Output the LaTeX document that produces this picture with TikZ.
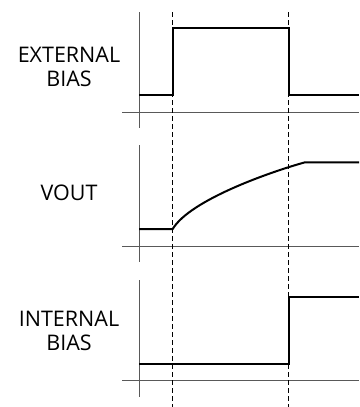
\documentclass[tikz,border=0pt]{standalone}
\usepackage{fontspec}
\setmainfont{Open Sans}
\usepackage{tikz}
\usetikzlibrary{calc}
\tikzset{
  sig label/.style={
    align=center,
    inner sep=0pt,
    font=\fontsize{21.5}{24}\selectfont,
  },
  sig axis/.style={draw=black!65, line width=1pt},
  sig wave/.style={draw=black, line width=2pt, line join=miter},
  sig marker/.style={draw=black, line width=0.9pt, dash pattern=on 5pt off 3pt},
}

\begin{document}
\begin{tikzpicture}[x=1pt,y=-1pt]
  \useasboundingbox (0,0) rectangle (359,407);

  % labels
  \node[sig label] (ext) at (69,67) {EXTERNAL\\BIAS};
  \node[sig label] (vout) at (69,192.5) {VOUT};
  \node[sig label] (int) at (69,331) {INTERNAL\\BIAS};

  % axes
  \coordinate (ext top) at (139,12);
  \coordinate (ext bot) at (139,128);
  \coordinate (ext left) at (122,112);
  \coordinate (ext right) at (359,112);
  \coordinate (vout top) at (139,145);
  \coordinate (vout bot) at (139,262);
  \coordinate (vout left) at (122,246);
  \coordinate (vout right) at (359,246);
  \coordinate (int top) at (139,280);
  \coordinate (int bot) at (139,397);
  \coordinate (int left) at (122,380);
  \coordinate (int right) at (359,380);
  \draw[sig axis] (ext top) -- (ext bot);
  \draw[sig axis] (ext left) -- (ext right);
  \draw[sig axis] (vout top) -- (vout bot);
  \draw[sig axis] (vout left) -- (vout right);
  \draw[sig axis] (int top) -- (int bot);
  \draw[sig axis] (int left) -- (int right);

  % time markers
  \coordinate (t1 top) at (172.7,12);
  \coordinate (t1 bot) at (172.7,407);
  \coordinate (t2 top) at (288.7,12);
  \coordinate (t2 bot) at (288.7,407);
  \draw[sig marker] (t1 top) -- (t1 bot);
  \draw[sig marker] (t2 top) -- (t2 bot);

  % external bias
  \draw[sig wave] (139,95) -- (172.7,95) -- (172.7,28) -- (288.7,28)
    -- (288.7,95) -- (359,95);

  % vout
  \draw[sig wave] (139,229) -- (172.7,229)
    .. controls (190,200) and (270,172) .. (305,162.3) -- (359,162.3);

  % internal bias
  \draw[sig wave] (139,363.7) -- (288.7,363.7) -- (288.7,296.7) -- (359,296.7);
\end{tikzpicture}
\end{document}
